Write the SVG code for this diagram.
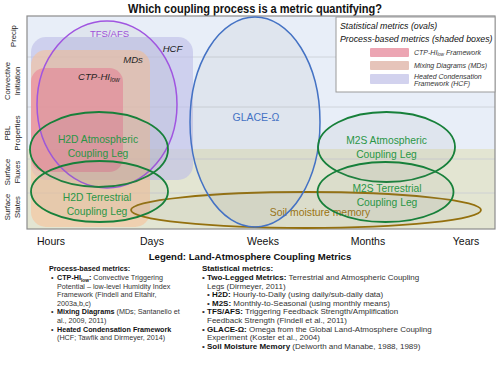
<svg xmlns="http://www.w3.org/2000/svg" width="500" height="367" viewBox="0 0 500 367">
<defs>
<style>
text{font-family:"Liberation Sans",Arial,sans-serif}
.title{font-size:12.5px;font-weight:bold;fill:#111}
.ylab{font-size:7.7px;fill:#222;text-anchor:middle}
.xlab{font-size:10.5px;fill:#111;text-anchor:middle}
.grid{stroke:#c9cdd3;stroke-width:0.8}
.hcf{fill:#bdbce8;fill-opacity:0.6}
.mds{fill:#f6c29a;fill-opacity:0.6}
.ctp{fill:#ec8498;fill-opacity:0.62}
.boxlab{font-size:9.6px;font-style:italic;fill:#1a1a1a;text-anchor:middle}
.oval{fill:#7f7f7f;fill-opacity:0.08}
.green{stroke:#17803a;stroke-width:1.8}
.gtext{font-size:10.3px;fill:#2a9646;text-anchor:middle}
.blue{stroke:#4472c4;stroke-width:1.5}
.purple{stroke:#a055e0;stroke-width:1.5}
.brown{stroke:#94700e;stroke-width:1.8}
.leg{fill:#fff;stroke:#9a9a9a;stroke-width:1}
.legh{font-size:8.8px;font-style:italic;fill:#111}
.legs{font-size:7px;font-style:italic;fill:#333}
.sw1{fill:#eca5b3}
.sw2{fill:#e6c4ba}
.sw3{fill:#d2d2ee}
.lt{font-size:7.2px;fill:#333}
.rt{font-size:8px;fill:#333}
.b{font-weight:bold;fill:#111}
.lhead{font-weight:bold;fill:#111}
</style>
</defs>
<rect width="500" height="367" fill="#fff"/>
<text class="title" x="255" y="13" text-anchor="middle" textLength="254" lengthAdjust="spacingAndGlyphs">Which coupling process is a metric quantifying?</text>

<g id="plot-area">
<rect x="27" y="16" width="468" height="133" fill="#e8eef8"/>
<rect x="27" y="149" width="468" height="80" fill="#e3e5d2"/>
<line class="grid" x1="27" y1="57" x2="495" y2="57"/>
<line class="grid" x1="27" y1="107" x2="495" y2="107"/>
<line class="grid" x1="27" y1="159" x2="495" y2="159"/>
<line class="grid" x1="27" y1="193" x2="495" y2="193"/>
<rect x="27" y="16" width="468" height="213" fill="none" stroke="#8c8c8c" stroke-width="1.2"/>
</g>

<g id="y-axis">
<text class="ylab" transform="translate(15.5,36) rotate(-90)">Precip</text>
<text class="ylab" transform="translate(10,81) rotate(-90)">Convective</text>
<text class="ylab" transform="translate(20,81) rotate(-90)">Initiation</text>
<text class="ylab" transform="translate(10,133) rotate(-90)">PBL</text>
<text class="ylab" transform="translate(20,133) rotate(-90)">Properties</text>
<text class="ylab" transform="translate(10,172) rotate(-90)">Surface</text>
<text class="ylab" transform="translate(20,172) rotate(-90)">Fluxes</text>
<text class="ylab" transform="translate(10,207) rotate(-90)">Surface</text>
<text class="ylab" transform="translate(20,207) rotate(-90)">States</text>
</g>

<g id="x-axis">
<text class="xlab" x="51" y="244.5">Hours</text>
<text class="xlab" x="152" y="244.5">Days</text>
<text class="xlab" x="263" y="244.5">Weeks</text>
<text class="xlab" x="368" y="244.5">Months</text>
<text class="xlab" x="466" y="244.5">Years</text>
</g>

<g id="box-hcf">
<rect class="hcf" x="31" y="37" width="162" height="143" rx="15"/>
<text class="boxlab" x="172.5" y="51.5">HCF</text>
</g>
<g id="box-mds">
<rect class="mds" x="31" y="50" width="119" height="177" rx="15"/>
<text class="boxlab" x="133" y="62.5">MDs</text>
</g>
<g id="box-ctp">
<rect class="ctp" x="31" y="68" width="92" height="104" rx="14"/>
<text class="boxlab" x="78" y="80" style="text-anchor:start">CTP-HI<tspan font-size="6.5" dy="2">low</tspan></text>
</g>

<g id="oval-soil">
<ellipse class="oval brown" cx="306" cy="210" rx="175" ry="18"/>
<text x="320" y="215.5" font-size="10.4" fill="#9a7410" text-anchor="middle">Soil moisture memory</text>
</g>
<g id="oval-tfs">
<ellipse class="oval purple" cx="107" cy="104.5" rx="70" ry="83.5"/>
<text x="109.5" y="36.5" font-size="9.5" fill="#a050d8" text-anchor="middle">TFS/AFS</text>
</g>
<g id="oval-h2d-atm">
<ellipse class="oval green" cx="99" cy="149.5" rx="69" ry="37.5"/>
<text class="gtext" x="98" y="142.5">H2D Atmospheric</text>
<text class="gtext" x="98" y="156.5">Coupling Leg</text>
</g>
<g id="oval-h2d-terr">
<ellipse class="oval green" cx="99.5" cy="191.5" rx="68.5" ry="30.5"/>
<text class="gtext" x="97" y="200.5">H2D Terrestrial</text>
<text class="gtext" x="97" y="214.5">Coupling Leg</text>
</g>
<g id="oval-glace">
<ellipse class="oval blue" cx="255" cy="122" rx="65" ry="105"/>
<text x="256" y="120.5" font-size="10.5" fill="#4472c4" text-anchor="middle">GLACE-Ω</text>
</g>
<g id="oval-m2s-atm">
<ellipse class="oval green" cx="386.5" cy="147" rx="68.5" ry="35"/>
<text class="gtext" x="386.5" y="143.5">M2S Atmospheric</text>
<text class="gtext" x="386.5" y="157.5">Coupling Leg</text>
</g>
<g id="oval-m2s-terr">
<ellipse class="oval green" cx="385.5" cy="192" rx="68" ry="30"/>
<text class="gtext" x="387" y="191.5">M2S Terrestrial</text>
<text class="gtext" x="387" y="205.5">Coupling Leg</text>
</g>

<g id="connectors"></g>

<g id="legend-box">
<rect class="leg" x="336" y="17" width="159" height="75"/>
<text class="legh" x="340" y="29">Statistical metrics (ovals)</text>
<text class="legh" x="340" y="42">Process-based metrics (shaded boxes)</text>
<rect class="sw1" x="370" y="48" width="39" height="9" rx="1"/>
<rect class="sw2" x="370" y="61" width="39" height="9" rx="1"/>
<rect class="sw3" x="370" y="74" width="39" height="10" rx="1"/>
<text class="legs" x="414" y="54.5">CTP-HI<tspan font-size="4.5" dy="1.5">low</tspan><tspan dy="-1.5"> Framework</tspan></text>
<text class="legs" x="414" y="67.5">Mixing Diagrams (MDs)</text>
<text class="legs" x="414" y="79">Heated Condensation</text>
<text class="legs" x="414" y="86">Framework (HCF)</text>
</g>

<g id="legend-text">
<text x="250" y="259.5" font-size="9.6" font-weight="bold" fill="#111" text-anchor="middle">Legend: Land-Atmosphere Coupling Metrics</text>
<g>
<text class="lt lhead" x="49" y="271">Process-based metrics:</text>
<text class="lt" x="51" y="280">•</text>
<text class="lt" x="57" y="280"><tspan class="b">CTP-HI<tspan font-size="4.8" dy="1.5">low</tspan><tspan dy="-1.5">:</tspan></tspan> Convective Triggering</text>
<text class="lt" x="57" y="288.6">Potential – low-level Humidity Index</text>
<text class="lt" x="57" y="297.2">Framework (Findell and Eltahir,</text>
<text class="lt" x="57" y="305.8">2003a,b,c)</text>
<text class="lt" x="51" y="314.4">•</text>
<text class="lt" x="57" y="314.4"><tspan class="b">Mixing Diagrams</tspan> (MDs; Santanello et</text>
<text class="lt" x="57" y="323">al., 2009, 2011)</text>
<text class="lt" x="51" y="331.6">•</text>
<text class="lt" x="57" y="331.6"><tspan class="b">Heated Condensation Framework</tspan></text>
<text class="lt" x="57" y="340.2">(HCF; Tawfik and Dirmeyer, 2014)</text>
</g>
<g>
<text class="rt lhead" x="202" y="271">Statistical metrics:</text>
<text class="rt" x="202" y="280">•</text>
<text class="rt" x="207" y="280"><tspan class="b">Two-Legged Metrics:</tspan> Terrestrial and Atmospheric Coupling</text>
<text class="rt" x="207" y="288.6">Legs (Dirmeyer, 2011)</text>
<text class="rt" x="207" y="297.2">•</text>
<text class="rt" x="212" y="297.2"><tspan class="b">H2D:</tspan> Hourly-to-Daily (using daily/sub-daily data)</text>
<text class="rt" x="207" y="305.8">•</text>
<text class="rt" x="212" y="305.8"><tspan class="b">M2S:</tspan> Monthly-to-Seasonal (using monthly means)</text>
<text class="rt" x="202" y="314.4">•</text>
<text class="rt" x="207" y="314.4"><tspan class="b">TFS/AFS:</tspan> Triggering Feedback Strength/Amplification</text>
<text class="rt" x="207" y="323">Feedback Strength (Findell et al., 2011)</text>
<text class="rt" x="202" y="331.6">•</text>
<text class="rt" x="207" y="331.6"><tspan class="b">GLACE-Ω:</tspan> Omega from the Global Land-Atmosphere Coupling</text>
<text class="rt" x="207" y="340.2">Experiment (Koster et al., 2004)</text>
<text class="rt" x="202" y="348.8">•</text>
<text class="rt" x="207" y="348.8"><tspan class="b">Soil Moisture Memory</tspan> (Delworth and Manabe, 1988, 1989)</text>
</g>
</g>
</svg>
